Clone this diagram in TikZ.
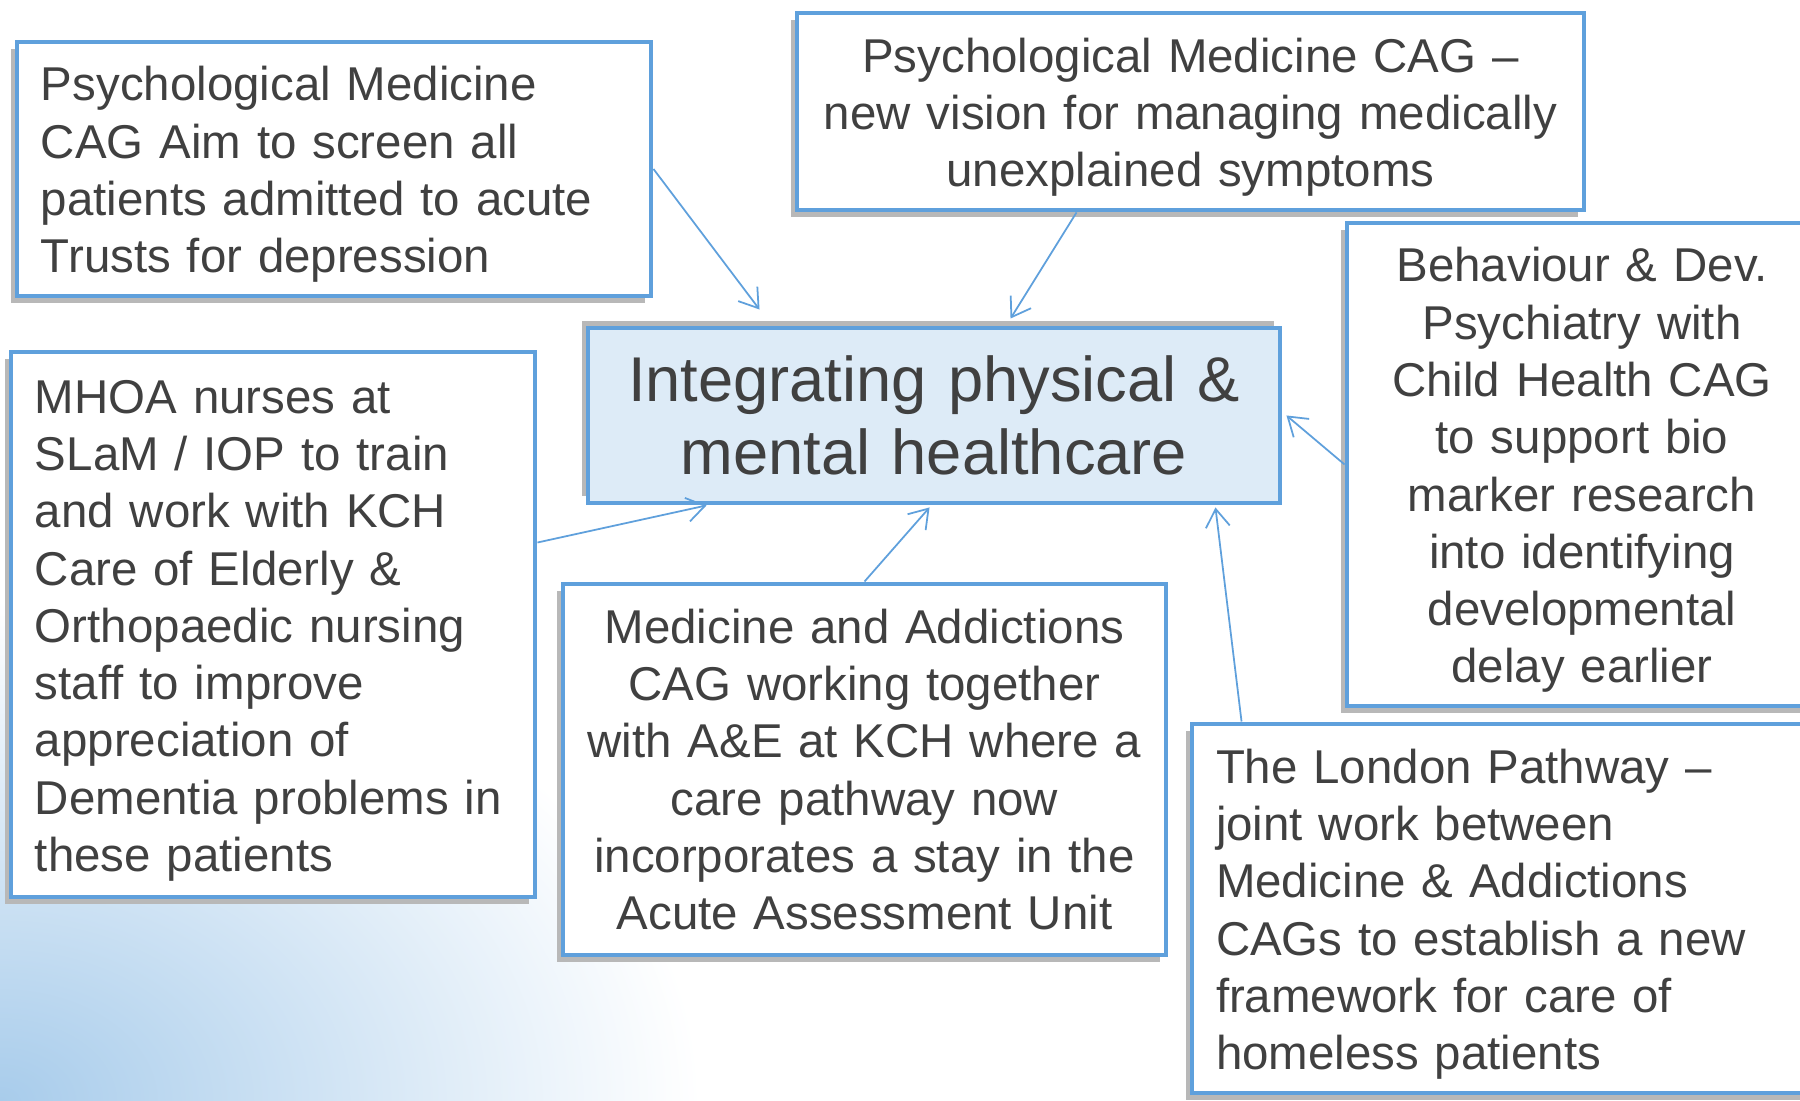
\documentclass[tikz,border=0pt]{standalone}
\usepackage{fontspec}
\setmainfont{Liberation Sans}
\usetikzlibrary{arrows.meta, positioning, calc, shadows}
\definecolor{boxblue}{RGB}{95,160,220}
\definecolor{hubfill}{RGB}{221,235,247}
\definecolor{textgrey}{RGB}{64,64,64}
\definecolor{cornerblue}{RGB}{168,204,235}

\begin{document}
\begin{tikzpicture}[
  lowshadow/.style={drop shadow={shadow xshift=-0.6mm, shadow yshift=-0.7mm, fill=black!28, opacity=1}},
  highshadow/.style={drop shadow={shadow xshift=-0.6mm, shadow yshift=0.7mm, fill=black!28, opacity=1}},
  infobox/.style={draw=boxblue, line width=1.4pt, fill=white, text=textgrey, inner xsep=2.4mm, inner ysep=0pt, font=\fontsize{13.5}{16.3}\selectfont, lowshadow},
  droptext/.style={execute at begin node={\rule{0pt}{13pt}}},
  hubbox/.style={draw=boxblue, line width=1.4pt, fill=hubfill, text=textgrey, inner xsep=2.4mm, inner ysep=0pt, font=\fontsize{18}{21}\selectfont, highshadow},
  feed/.style={draw=boxblue, line width=0.5pt, -{Straight Barb[length=1.8mm, width=2.4mm]}}
]
  % Page and background
  \useasboundingbox (0,0) rectangle (18,11.01);
  \clip (0,0) rectangle (18,11.01);
  \fill[white] (0,0) rectangle (18,11.01);
  \shade[inner color=cornerblue, outer color=white] (-7,-5) rectangle (7,5);

  % Centre
  \node[hubbox, align=center, text width=6.44cm, minimum height=1.75cm] (hub) at (9.34, 6.855) {
    Integrating physical \&\\
    mental healthcare
  };

  % Psychological Medicine screening
  \node[infobox, droptext, align=left, text width=5.86cm, minimum height=2.54cm] (aimscreen) at (3.34, 9.32) {
    Psychological Medicine\\
    CAG Aim to screen all\\
    patients admitted to acute\\
    Trusts for depression
  };

  % Medically unexplained symptoms
  \node[infobox, droptext, align=center, text width=7.39cm, minimum height=1.97cm] (mus) at (11.905, 9.895) {
    Psychological Medicine CAG --\\
    new vision for managing medically\\
    unexplained symptoms
  };

  % Behaviour & Dev. Psychiatry
  \node[infobox, droptext, align=center, text width=4.22cm, minimum height=4.83cm] (devpsych) at (15.82, 6.365) {
    Behaviour \& Dev.\\
    Psychiatry with\\
    Child Health CAG\\
    to support bio\\
    marker research\\
    into identifying\\
    developmental\\
    delay earlier
  };

  % MHOA nurses
  \node[infobox, droptext, align=left, text width=4.76cm, minimum height=5.45cm] (nursing) at (2.73, 4.765) {
    MHOA nurses at\\
    SLaM / IOP to train\\
    and work with KCH\\
    Care of Elderly \&\\
    Orthopaedic nursing\\
    staff to improve\\
    appreciation of\\
    Dementia problems in\\
    these patients
  };

  % Medicine and Addictions with A&E
  \node[infobox, align=center, text width=5.55cm, minimum height=3.71cm] (addictions) at (8.645, 3.315) {
    Medicine and Addictions\\
    CAG working together\\
    with A\&E at KCH where a\\
    care pathway now\\
    incorporates a stay in the\\
    Acute Assessment Unit
  };

  % The London Pathway
  \node[infobox, droptext, align=left, text width=5.8cm, minimum height=3.69cm] (pathway) at (15.06, 1.925) {
    The London Pathway --\\
    joint work between\\
    Medicine \& Addictions\\
    CAGs to establish a new\\
    framework for care of\\
    homeless patients
  };

  % Connectors into the centre
  \draw[feed] (aimscreen.east) -- ([xshift=1.74cm, yshift=1.6mm]hub.north west);
  \draw[feed] ([xshift=2.82cm]mus.south west) -- ([xshift=4.25cm, yshift=0.7mm]hub.north west);
  \draw[feed] (devpsych.west) -- ([xshift=0.4mm]hub.east);
  \draw[feed] ([yshift=-1.93cm]nursing.north east) -- ([xshift=1.21cm]hub.south west);
  \draw[feed] ([xshift=3.04cm]addictions.north west) -- ([xshift=3.44cm, yshift=-0.2mm]hub.south west);
  \draw[feed] ([xshift=0.52cm]pathway.north west) -- ([xshift=-0.67cm, yshift=-0.2mm]hub.south east);
\end{tikzpicture}
\end{document}
